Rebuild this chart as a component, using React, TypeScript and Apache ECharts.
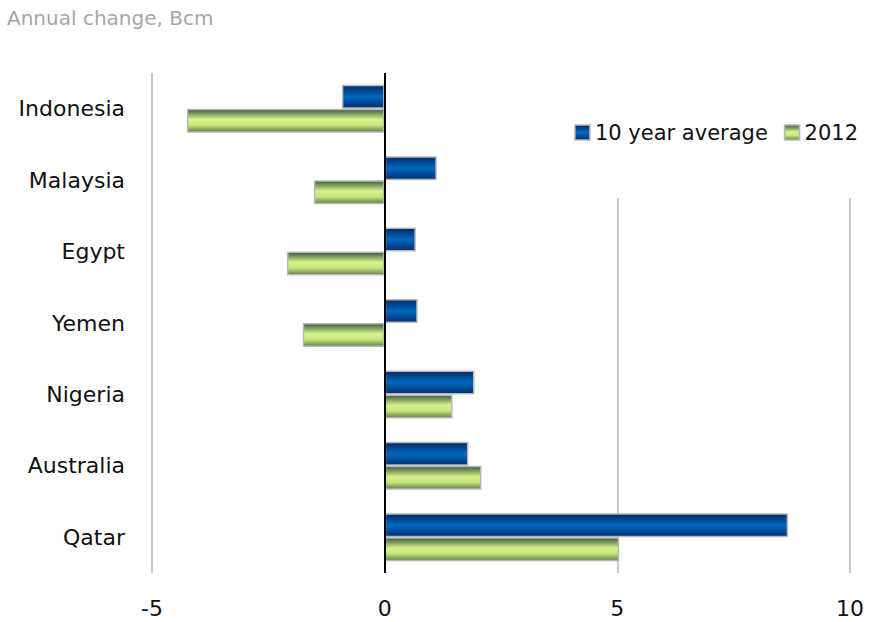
import React, { useEffect, useRef } from "react";
import * as echarts from "echarts";

const categories = ["Indonesia", "Malaysia", "Egypt", "Yemen", "Nigeria", "Australia", "Qatar"];
const avg10 = [-0.92, 1.12, 0.67, 0.71, 1.93, 1.8, 8.67];
const y2012 = [-4.25, -1.52, -2.1, -1.76, 1.46, 2.08, 5.04];
const seriesNames = ["10 year average", "2012"];
const titleText = "Annual change, Bcm";

const FONT = "'DejaVu Sans', 'Noto Sans', sans-serif";

export default function App() {
  const ref = useRef<HTMLDivElement>(null);
  useEffect(() => {
    const chart = echarts.init(ref.current!, null, { renderer: "svg" });
    const blue = new echarts.graphic.LinearGradient(0, 0, 0, 1, [
      { offset: 0, color: "#002a66" },
      { offset: 0.5, color: "#0068c0" },
      { offset: 1, color: "#00306e" },
    ]);
    const green = new echarts.graphic.LinearGradient(0, 0, 0, 1, [
      { offset: 0, color: "#3c5a3c" },
      { offset: 0.45, color: "#d6f38c" },
      { offset: 0.7, color: "#c8e47c" },
      { offset: 1, color: "#5e8048" },
    ]);
    chart.setOption({
      animation: false,
      title: {
        text: titleText,
        left: 2,
        top: 3,
        textStyle: { color: "#a6a6a6", fontSize: 20, fontWeight: "normal", fontFamily: FONT },
      },
      legend: {
        data: seriesNames,
        icon: "rect",
        right: 9,
        top: 73,
        itemWidth: 15,
        itemHeight: 15,
        itemGap: 16,
        backgroundColor: "#fff",
        padding: [49, 12, 55, 40],
        textStyle: { color: "#111", fontSize: 21, fontFamily: FONT },
        itemStyle: { borderColor: "#b8b8b8", borderWidth: 1.5 },
      },
      grid: { left: 152, right: 29, top: 73, bottom: 49, containLabel: false },
      xAxis: {
        type: "value",
        min: -5,
        max: 10,
        interval: 5,
        axisLine: { show: false },
        axisTick: { show: false },
        splitLine: { show: true, lineStyle: { color: "#c8c8c8", width: 2 } },
        axisLabel: { color: "#111", fontSize: 22, fontFamily: FONT, margin: 24 },
      },
      yAxis: {
        type: "category",
        data: categories,
        inverse: true,
        axisLine: { show: false },
        axisTick: { show: false },
        axisLabel: { color: "#111", fontSize: 22, fontFamily: FONT, margin: 27 },
      },
      series: [
        {
          name: seriesNames[0],
          type: "bar",
          data: avg10,
          barWidth: 24,
          barGap: "0%",
          itemStyle: { color: blue, borderColor: "#b8b8b8", borderWidth: 1.5 },
          markLine: {
            silent: true,
            symbol: "none",
            label: { show: false },
            lineStyle: { color: "#000", width: 2, type: "solid" },
            data: [{ xAxis: 0 }],
            z: 10,
          },
        },
        {
          name: seriesNames[1],
          type: "bar",
          data: y2012,
          barWidth: 24,
          barGap: "0%",
          itemStyle: { color: green, borderColor: "#b8b8b8", borderWidth: 1.5 },
        },
      ],
    });
    return () => chart.dispose();
  }, []);
  return <div ref={ref} style={{ width: 879, height: 622, position: "absolute", left: 0, top: 0 }} />;
}
